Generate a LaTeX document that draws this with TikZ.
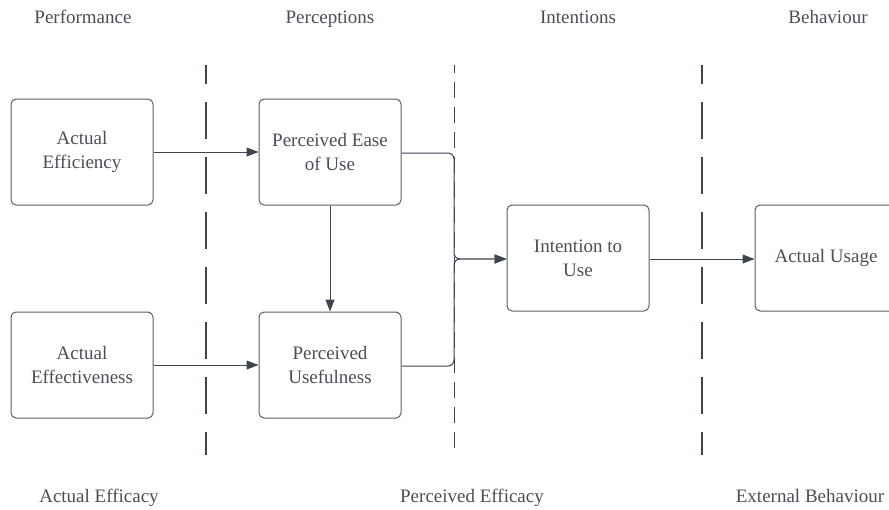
\documentclass[tikz,border=0pt]{standalone}
\usepackage{fontspec}
\setmainfont{Liberation Serif}
\usetikzlibrary{arrows.meta}
\definecolor{inkline}{HTML}{3E4550}
\definecolor{inktext}{HTML}{4A4F57}
\definecolor{boxline}{HTML}{5A5F66}
\definecolor{mergeline}{HTML}{80858C}
\begin{document}
\begin{tikzpicture}[x=1pt,y=-1pt,
  stage/.style={draw=boxline,line width=1pt,rounded corners=5pt,minimum width=142pt,minimum height=106pt,
    align=center,text=inktext,font=\fontsize{19}{24}\selectfont,inner sep=0pt},
  caption/.style={text=inktext,font=\fontsize{19}{24}\selectfont,inner sep=0pt,text height=13pt,text depth=4pt},
  link/.style={draw=inkline,line width=1pt,-{Triangle[length=12pt,width=9pt]}},
  heavydiv/.style={draw=inkline,line width=2pt,dash pattern=on 37pt off 18pt,dash phase=18pt},
  lightdiv/.style={draw=inkline,line width=1pt,dash pattern=on 16pt off 9pt,dash phase=8pt}]
\clip (0,0) rectangle (889,509);
\fill[white] (0,0) rectangle (889,509);

% column headings
\node[caption] (hperf) at (83,19) {Performance};
\node[caption] (hperc) at (330,19) {Perceptions};
\node[caption] (hint) at (578,19) {Intentions};
\node[caption] (hbeh) at (828,19) {Behaviour};

% group labels along the bottom
\node[caption] (gact) at (99,498) {Actual Efficacy};
\node[caption] (gper) at (472,498) {Perceived Efficacy};
\node[caption] (gext) at (810,498) {External Behaviour};

% column dividers
\draw[heavydiv] (206,65) -- (206,455);
\draw[lightdiv] (454,65) -- (454,455);
\draw[heavydiv] (702,65) -- (702,455);

% boxes
\node[stage] (aeff) at (82,152) {Actual\\Efficiency};
\node[stage] (peou) at (330,152) {Perceived Ease\\of Use};
\node[stage] (aefv) at (82,365) {Actual\\Effectiveness};
\node[stage] (pu) at (330,365) {Perceived\\Usefulness};
\node[stage] (itu) at (578,258) {Intention to\\Use};
\node[stage] (au) at (826,258) {Actual Usage};

\coordinate (jtop) at (454,153);
\coordinate (jbot) at (454,366);
\coordinate (jmid) at (454,259);

% connectors
\draw[link] (aeff) -- (peou);
\draw[link] (aefv) -- (pu);
\draw[link] (peou) -- (pu);
\draw[link,rounded corners=6pt] (peou.east |- jtop) -- (jtop) -- (jmid) -- (itu.west |- jmid);
\draw[link,rounded corners=6pt] (pu.east |- jbot) -- (jbot) -- (jmid) -- (itu.west |- jmid);
\draw[draw=mergeline,line width=2.5pt] ([xshift=6pt]jmid) -- ([xshift=-12pt]itu.west |- jmid);
\draw[link] (itu.east |- jmid) -- (au.west |- jmid);
\end{tikzpicture}
\end{document}
